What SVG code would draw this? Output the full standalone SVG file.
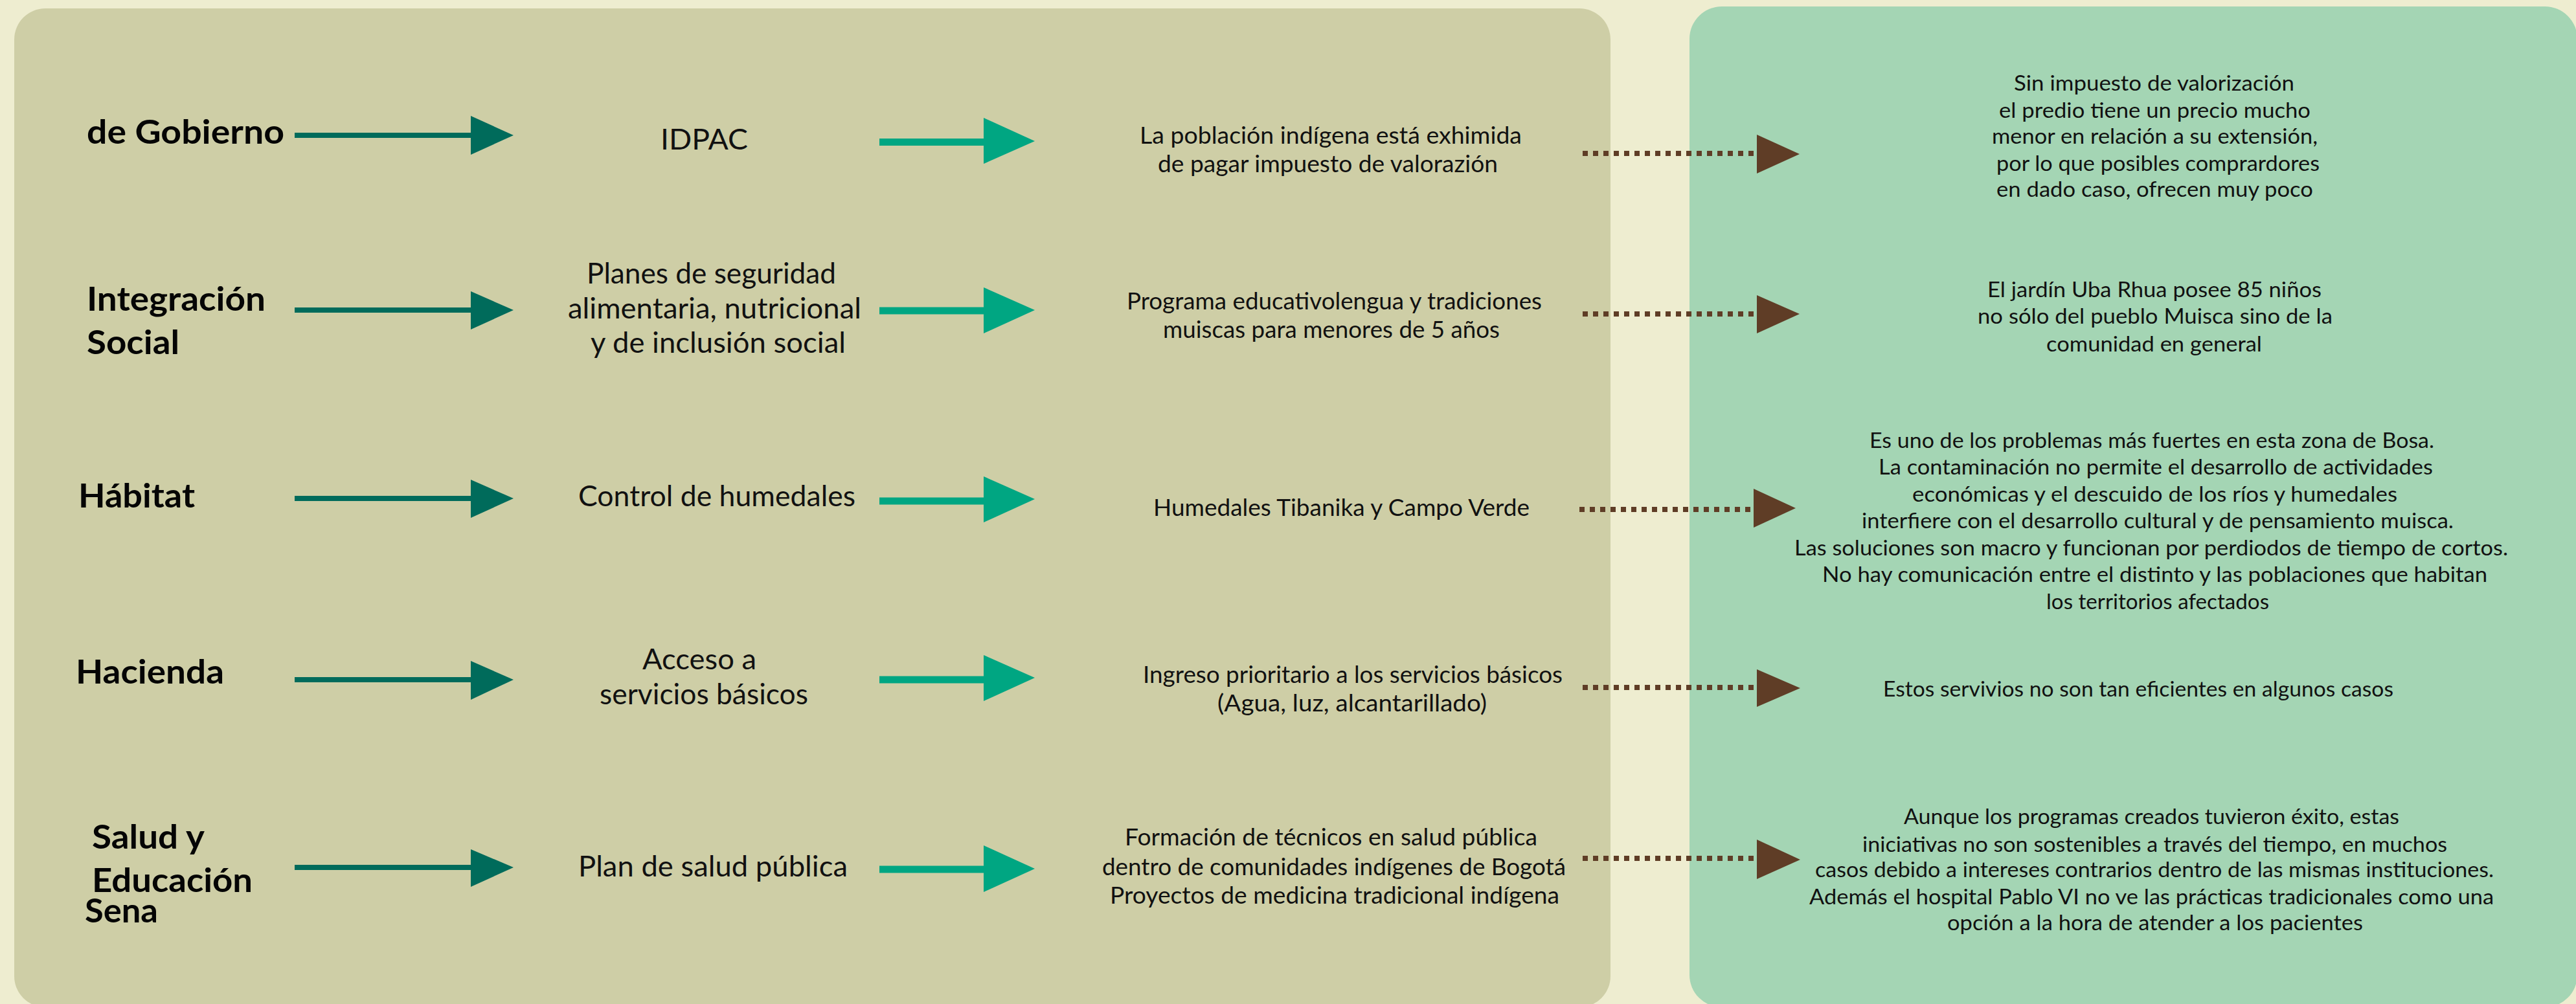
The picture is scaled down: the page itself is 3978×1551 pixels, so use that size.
<svg xmlns="http://www.w3.org/2000/svg" width="3978" height="1551" viewBox="0 0 3978 1551">
<style>
.lbl{font-family:Lato,"Liberation Sans",sans-serif;font-weight:700;font-size:52px;fill:#050505}
.c2{font-family:Lato,"Liberation Sans",sans-serif;font-size:44px;fill:#111}
.c3{font-family:Lato,"Liberation Sans",sans-serif;font-size:36px;fill:#111}
.c4{font-family:Lato,"Liberation Sans",sans-serif;font-size:33px;fill:#111}
.dk{stroke:#006B5B;stroke-width:8}
.dkh{fill:#006B5B}
.lt{stroke:#00A682;stroke-width:11}
.lth{fill:#00A682}
.br{stroke:#5F3D26;stroke-width:8;stroke-dasharray:8 8}
.brh{fill:#5F3D26}
</style>
<rect x="0" y="0" width="3978" height="1551" fill="#EEEDD0"/>
<rect id="panel-left" x="22" y="13" width="2465" height="1543" rx="48" ry="48" fill="#CECEA6"/>
<rect id="panel-right" x="2609" y="10" width="1371" height="1546" rx="50" ry="50" fill="#A4D5B4"/>

<g id="connectors">
  <line class="dk" x1="455" y1="209" x2="729" y2="209"/><polygon class="dkh" points="727,179 793,209 727,239"/>
  <line class="dk" x1="455" y1="479" x2="729" y2="479"/><polygon class="dkh" points="727,450 793,479 727,509"/>
  <line class="dk" x1="455" y1="770" x2="729" y2="770"/><polygon class="dkh" points="727,741 793,770 727,800"/>
  <line class="dk" x1="455" y1="1050" x2="729" y2="1050"/><polygon class="dkh" points="727,1021 793,1050 727,1081"/>
  <line class="dk" x1="455" y1="1340" x2="729" y2="1340"/><polygon class="dkh" points="727,1312 793,1340 727,1370"/>

  <line class="lt" x1="1358" y1="219.5" x2="1521" y2="219.5"/><polygon class="lth" points="1519,182 1598,218 1519,253"/>
  <line class="lt" x1="1358" y1="480" x2="1521" y2="480"/><polygon class="lth" points="1519,444 1598,479 1519,515"/>
  <line class="lt" x1="1358" y1="774" x2="1521" y2="774"/><polygon class="lth" points="1519,736 1598,771 1519,807"/>
  <line class="lt" x1="1358" y1="1050" x2="1521" y2="1050"/><polygon class="lth" points="1519,1012 1598,1047 1519,1083"/>
  <line class="lt" x1="1358" y1="1343" x2="1521" y2="1343"/><polygon class="lth" points="1519,1306 1598,1342 1519,1378"/>

  <line class="br" x1="2444" y1="237" x2="2710" y2="237"/><polygon class="brh" points="2713,208 2779,238 2713,268"/>
  <line class="br" x1="2444" y1="485" x2="2710" y2="485"/><polygon class="brh" points="2713,456 2779,485 2713,515"/>
  <line class="br" x1="2439" y1="787" x2="2706" y2="787"/><polygon class="brh" points="2708,755 2773,785 2708,815"/>
  <line class="br" x1="2444" y1="1062" x2="2710" y2="1062"/><polygon class="brh" points="2713,1034 2780,1063 2713,1092"/>
  <line class="br" x1="2444" y1="1326" x2="2710" y2="1326"/><polygon class="brh" points="2713,1297 2780,1328 2713,1358"/>
</g>

<g id="row1-entidad"><text class="lbl" x="134" y="222" textLength="305" lengthAdjust="spacingAndGlyphs">de Gobierno</text></g>
<g id="row1-programa"><text class="c2" x="1020" y="231" textLength="135" lengthAdjust="spacingAndGlyphs">IDPAC</text></g>
<g id="row1-accion">
  <text class="c3" x="1760" y="222" textLength="590" lengthAdjust="spacingAndGlyphs">La población indígena está exhimida</text>
  <text class="c3" x="1788" y="266" textLength="525" lengthAdjust="spacingAndGlyphs">de pagar impuesto de valorazión</text>
</g>
<g id="row1-resultado">
  <text class="c4" x="3110" y="140" textLength="433" lengthAdjust="spacingAndGlyphs">Sin impuesto de valorización</text>
  <text class="c4" x="3087" y="182" textLength="481" lengthAdjust="spacingAndGlyphs">el predio tiene un precio mucho</text>
  <text class="c4" x="3076" y="222" textLength="503" lengthAdjust="spacingAndGlyphs">menor en relación a su extensión,</text>
  <text class="c4" x="3083" y="264" textLength="499" lengthAdjust="spacingAndGlyphs">por lo que posibles comprardores</text>
  <text class="c4" x="3083" y="304" textLength="489" lengthAdjust="spacingAndGlyphs">en dado caso, ofrecen muy poco</text>
</g>

<g id="row2-entidad">
  <text class="lbl" x="134" y="480" textLength="276" lengthAdjust="spacingAndGlyphs">Integración</text>
  <text class="lbl" x="134" y="547" textLength="143" lengthAdjust="spacingAndGlyphs">Social</text>
</g>
<g id="row2-programa">
  <text class="c2" x="906" y="438" textLength="385" lengthAdjust="spacingAndGlyphs">Planes de seguridad</text>
  <text class="c2" x="877" y="492" textLength="453" lengthAdjust="spacingAndGlyphs">alimentaria, nutricional</text>
  <text class="c2" x="912" y="545" textLength="394" lengthAdjust="spacingAndGlyphs">y de inclusión social</text>
</g>
<g id="row2-accion">
  <text class="c3" x="1740" y="478" textLength="641" lengthAdjust="spacingAndGlyphs">Programa educativolengua y tradiciones</text>
  <text class="c3" x="1796" y="522" textLength="520" lengthAdjust="spacingAndGlyphs">muiscas para menores de 5 años</text>
</g>
<g id="row2-resultado">
  <text class="c4" x="3069" y="459" textLength="516" lengthAdjust="spacingAndGlyphs">El jardín Uba Rhua posee 85 niños</text>
  <text class="c4" x="3054" y="500" textLength="548" lengthAdjust="spacingAndGlyphs">no sólo del pueblo Muisca sino de la</text>
  <text class="c4" x="3160" y="543" textLength="333" lengthAdjust="spacingAndGlyphs">comunidad en general</text>
</g>

<g id="row3-entidad"><text class="lbl" x="121" y="784" textLength="180" lengthAdjust="spacingAndGlyphs">Hábitat</text></g>
<g id="row3-programa"><text class="c2" x="893" y="782" textLength="428" lengthAdjust="spacingAndGlyphs">Control de humedales</text></g>
<g id="row3-accion"><text class="c3" x="1781" y="797" textLength="581" lengthAdjust="spacingAndGlyphs">Humedales Tibanika y Campo Verde</text></g>
<g id="row3-resultado">
  <text class="c4" x="2887" y="692" textLength="872" lengthAdjust="spacingAndGlyphs">Es uno de los problemas más fuertes en esta zona de Bosa.</text>
  <text class="c4" x="2901" y="733" textLength="856" lengthAdjust="spacingAndGlyphs">La contaminación no permite el desarrollo de actividades</text>
  <text class="c4" x="2953" y="775" textLength="749" lengthAdjust="spacingAndGlyphs">económicas y el descuido de los ríos y humedales</text>
  <text class="c4" x="2875" y="816" textLength="914" lengthAdjust="spacingAndGlyphs">interfiere con el desarrollo cultural y de pensamiento muisca.</text>
  <text class="c4" x="2771" y="858" textLength="1102" lengthAdjust="spacingAndGlyphs">Las soluciones son macro y funcionan por perdiodos de tiempo de cortos.</text>
  <text class="c4" x="2814" y="899" textLength="1027" lengthAdjust="spacingAndGlyphs">No hay comunicación entre el distinto y las poblaciones que habitan</text>
  <text class="c4" x="3160" y="941" textLength="344" lengthAdjust="spacingAndGlyphs">los territorios afectados</text>
</g>

<g id="row4-entidad"><text class="lbl" x="117" y="1056" textLength="229" lengthAdjust="spacingAndGlyphs">Hacienda</text></g>
<g id="row4-programa">
  <text class="c2" x="992" y="1034" textLength="176" lengthAdjust="spacingAndGlyphs">Acceso a</text>
  <text class="c2" x="926" y="1088" textLength="322" lengthAdjust="spacingAndGlyphs">servicios básicos</text>
</g>
<g id="row4-accion">
  <text class="c3" x="1765" y="1055" textLength="648" lengthAdjust="spacingAndGlyphs">Ingreso prioritario a los servicios básicos</text>
  <text class="c3" x="1880" y="1099" textLength="416" lengthAdjust="spacingAndGlyphs">(Agua, luz, alcantarillado)</text>
</g>
<g id="row4-resultado"><text class="c4" x="2908" y="1076" textLength="788" lengthAdjust="spacingAndGlyphs">Estos servivios no son tan eficientes en algunos casos</text></g>

<g id="row5-entidad">
  <text class="lbl" x="142" y="1311" textLength="174" lengthAdjust="spacingAndGlyphs">Salud y</text>
  <text class="lbl" x="142" y="1378" textLength="248" lengthAdjust="spacingAndGlyphs">Educación</text>
  <text class="lbl" x="131" y="1425" textLength="113" lengthAdjust="spacingAndGlyphs">Sena</text>
</g>
<g id="row5-programa"><text class="c2" x="893" y="1354" textLength="416" lengthAdjust="spacingAndGlyphs">Plan de salud pública</text></g>
<g id="row5-accion">
  <text class="c3" x="1737" y="1306" textLength="637" lengthAdjust="spacingAndGlyphs">Formación de técnicos en salud pública</text>
  <text class="c3" x="1702" y="1352" textLength="716" lengthAdjust="spacingAndGlyphs">dentro de comunidades indígenes de Bogotá</text>
  <text class="c3" x="1714" y="1396" textLength="694" lengthAdjust="spacingAndGlyphs">Proyectos de medicina tradicional indígena</text>
</g>
<g id="row5-resultado">
  <text class="c4" x="2940" y="1273" textLength="765" lengthAdjust="spacingAndGlyphs">Aunque los programas creados tuvieron éxito, estas</text>
  <text class="c4" x="2876" y="1316" textLength="903" lengthAdjust="spacingAndGlyphs">iniciativas no son sostenibles a través del tiempo, en muchos</text>
  <text class="c4" x="2803" y="1355" textLength="1048" lengthAdjust="spacingAndGlyphs">casos debido a intereses contrarios dentro de las mismas instituciones.</text>
  <text class="c4" x="2794" y="1397" textLength="1057" lengthAdjust="spacingAndGlyphs">Además el hospital Pablo VI no ve las prácticas tradicionales como una</text>
  <text class="c4" x="3007" y="1437" textLength="642" lengthAdjust="spacingAndGlyphs">opción a la hora de atender a los pacientes</text>
</g>
</svg>
